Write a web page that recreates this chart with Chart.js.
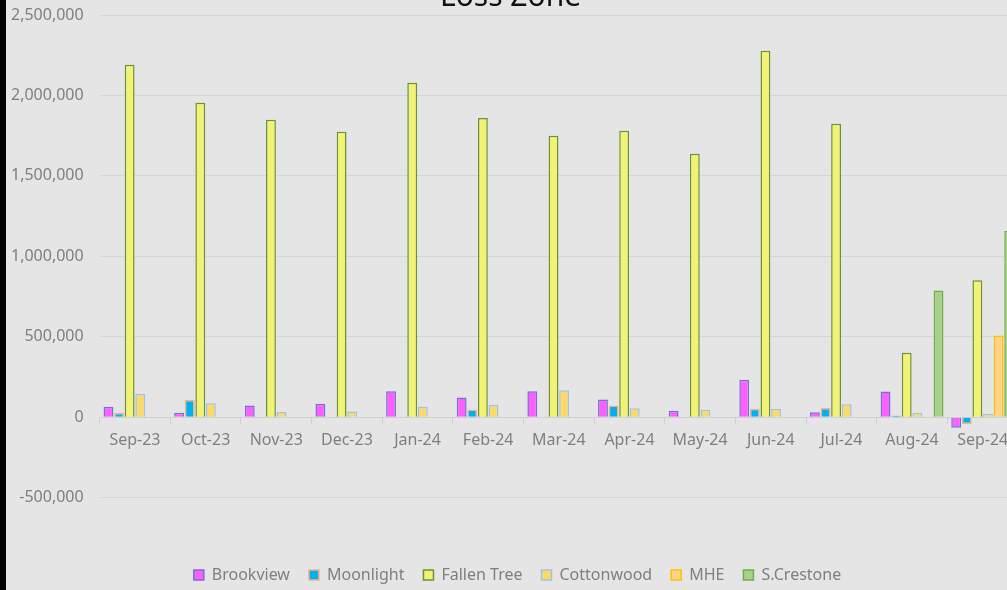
<!DOCTYPE html>
<html>
<head>
<meta charset="utf-8">
<script src="https://cdn.jsdelivr.net/npm/chart.js@4/dist/chart.umd.min.js"></script>
<style>
  html, body { margin: 0; padding: 0; background: #000; overflow: hidden; width: 1007px; height: 590px; }
  #wrap { position: absolute; left: -10px; top: -21px; width: 1036px; height: 614px; background: #e5e5e5; }
  #edge { position: absolute; left: 0; top: 0; width: 6px; height: 590px; background: #000; z-index: 2; }
</style>
</head>
<body>
<div id="wrap"><canvas id="lossChart" width="1036" height="614"></canvas></div>
<div id="edge"></div>
<script>
// months shown on the x axis
const months = ["Sep-23", "Oct-23", "Nov-23", "Dec-23", "Jan-24", "Feb-24", "Mar-24",
  "Apr-24", "May-24", "Jun-24", "Jul-24", "Aug-24", "Sep-24"];

// values per site
const brookview = [64000, 28000, 73000, 83000, 161000, 122000, 161000, 110000, 40000, 232000, 30000, 159000, -66000];
const moonlight = [26000, 107000, null, null, null, 48000, null, 73000, null, 52000, 57000, 10000, -42000];
const fallenTree = [2190000, 1955000, 1849000, 1775000, 2079000, 1859000, 1750000, 1781000, 1638000, 2278000, 1824000, 400000, 851000];
const cottonwood = [144000, 86000, 32000, 35000, 64000, 76000, 168000, 56000, 46000, 52000, 80000, 28000, 20000];
const mhe = [null, null, null, null, null, null, null, null, null, null, null, null, 507000];
const sCrestone = [null, null, null, null, null, null, null, null, null, null, null, 787000, 1157000];

const yTicks = [-500000, 0, 500000, 1000000, 1500000, 2000000, 2500000];

const font = "'Noto Sans', 'Open Sans', sans-serif";
const grey = "#7f7f7f";

const ds = (label, data, fill, border) => ({
  label: label,
  data: data,
  backgroundColor: fill,
  borderColor: border,
  borderWidth: 1.5,
  barPercentage: 0.93,
  categoryPercentage: 0.9,
});

// title and legend sit a little right of the middle in the original
const nudge = {
  id: "nudge",
  afterLayout(chart) {
    chart.legend.left += 22;
    chart.titleBlock.left += 8;
  },
};

const ctx = document.getElementById("lossChart").getContext("2d");
new Chart(ctx, {
  type: "bar",
  data: {
    labels: months,
    datasets: [
      ds("Brookview", brookview, "#ff5eff", "#6f72d6"),
      ds("Moonlight", moonlight, "#00b0f0", "#f4b183"),
      ds("Fallen Tree", fallenTree, "#f2f274", "#6b9139"),
      ds("Cottonwood", cottonwood, "#ffd966", "#9dc3e6"),
      ds("MHE", mhe, "#ffd485", "#ffc000"),
      ds("S.Crestone", sCrestone, "#a9d18e", "#70ad47"),
    ],
  },
  plugins: [nudge],
  options: {
    responsive: false,
    animation: false,
    layout: { padding: { left: 5, right: 8, top: 0, bottom: 0 } },
    scales: {
      x: {
        position: { y: 0 },
        grid: { display: true, drawOnChartArea: false, drawTicks: true, tickLength: 6, offset: true, color: "#d0d0d0" },
        border: { display: true, color: "#d0d0d0" },
        ticks: { color: grey, font: { family: font, size: 16 }, padding: 8, maxRotation: 0, autoSkip: false },
      },
      y: {
        min: yTicks[0],
        max: yTicks[yTicks.length - 1],
        afterBuildTicks: (axis) => { axis.ticks = yTicks.map(v => ({ value: v })); },
        grid: { color: "#d6d6d6", drawTicks: false },
        border: { display: false },
        ticks: {
          color: grey,
          font: { family: font, size: 16 },
          padding: 16,
          callback: (v) => v.toLocaleString("en-US"),
        },
      },
    },
    plugins: {
      title: {
        display: true,
        text: "Loss Zone",
        color: "#111",
        font: { family: font, size: 30, weight: "normal" },
        padding: { top: 0, bottom: 0 },
      },
      legend: {
        position: "bottom",
        title: { display: true, text: " ", font: { size: 12 }, padding: { top: 36, bottom: 0 } },
        labels: {
          color: grey,
          font: { family: font, size: 16 },
          boxWidth: 10,
          boxHeight: 10,
          padding: 19,
        },
      },
      tooltip: { enabled: false },
    },
  },
});
</script>
</body>
</html>
